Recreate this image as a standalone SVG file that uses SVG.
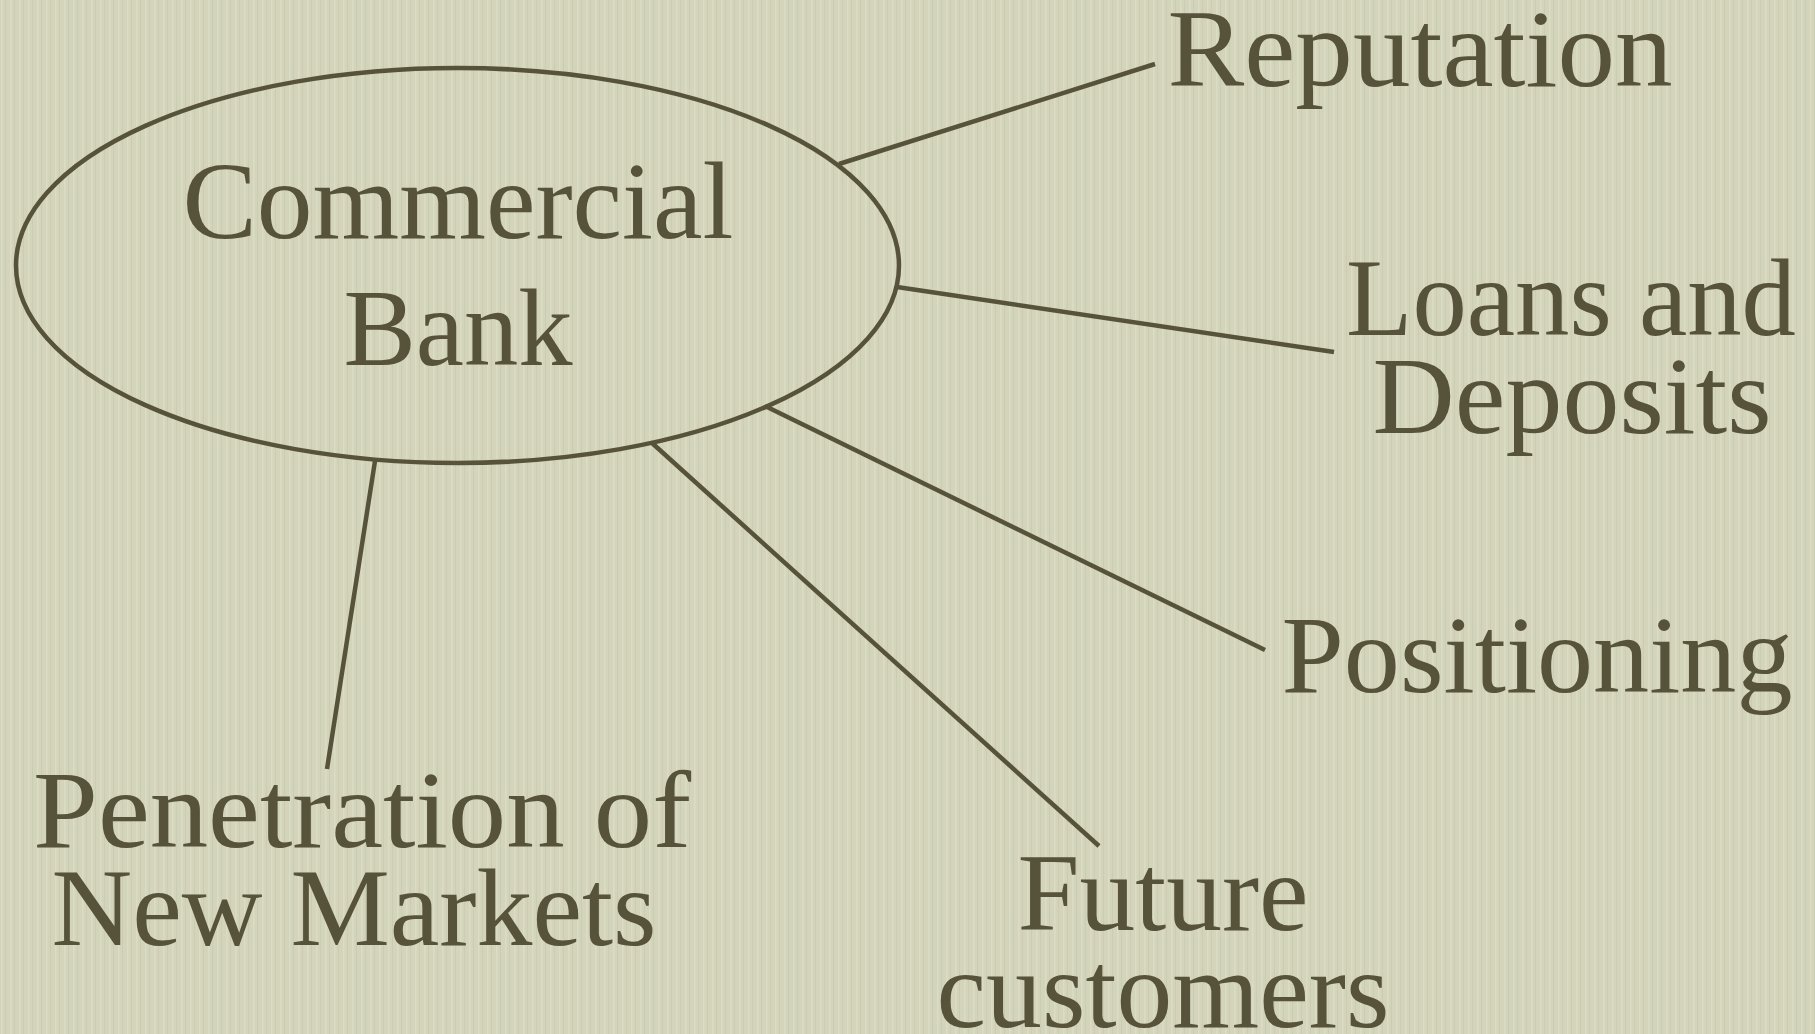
<svg xmlns="http://www.w3.org/2000/svg" width="1815" height="1034" viewBox="0 0 1815 1034">
<style>
.bg{fill:#d3d4ba}
.t{font-family:"Liberation Serif","Times New Roman",serif;font-size:110px;fill:#56533a}
.c{stroke:#56533a;stroke-width:4.5;fill:none;stroke-linecap:butt}
</style>
<defs>
<pattern id="tex" width="9" height="1034" patternUnits="userSpaceOnUse">
<rect x="1" y="0" width="1.5" height="1034" fill="#e2e2cc" opacity="0.55"/>
<rect x="5" y="0" width="1" height="1034" fill="#c4c5aa" opacity="0.5"/>
</pattern>
</defs>
<rect class="bg" x="0" y="0" width="1815" height="1034"/>
<rect x="0" y="0" width="1815" height="1034" fill="url(#tex)"/>
<g id="connectors">
<line class="c" x1="839" y1="164" x2="1155" y2="64"/>
<line class="c" x1="897" y1="287" x2="1334" y2="352"/>
<line class="c" x1="765" y1="406" x2="1265" y2="650"/>
<line class="c" x1="652" y1="443" x2="1099" y2="846"/>
<line class="c" x1="375" y1="461" x2="327" y2="769"/>
</g>
<g id="bank">
<ellipse class="c" cx="457.5" cy="265.5" rx="441.5" ry="197.5"/>
<text class="t" x="458" y="238" text-anchor="middle" textLength="551" lengthAdjust="spacingAndGlyphs">Commercial</text>
<text class="t" x="458" y="365" text-anchor="middle" textLength="229" lengthAdjust="spacingAndGlyphs">Bank</text>
</g>
<g id="reputation">
<text class="t" x="1420" y="86" text-anchor="middle" textLength="505" lengthAdjust="spacingAndGlyphs">Reputation</text>
</g>
<g id="loans">
<text class="t" x="1571" y="335" text-anchor="middle" textLength="450" lengthAdjust="spacingAndGlyphs">Loans and</text>
<text class="t" x="1572" y="433" text-anchor="middle" textLength="399" lengthAdjust="spacingAndGlyphs">Deposits</text>
</g>
<g id="positioning">
<text class="t" x="1537" y="692" text-anchor="middle" textLength="511" lengthAdjust="spacingAndGlyphs">Positioning</text>
</g>
<g id="future">
<text class="t" x="1163" y="930" text-anchor="middle" textLength="291" lengthAdjust="spacingAndGlyphs">Future</text>
<text class="t" x="1163" y="1027" text-anchor="middle" textLength="453" lengthAdjust="spacingAndGlyphs">customers</text>
</g>
<g id="penetration">
<text class="t" x="362" y="847" text-anchor="middle" textLength="658" lengthAdjust="spacingAndGlyphs">Penetration of</text>
<text class="t" x="354" y="945" text-anchor="middle" textLength="605" lengthAdjust="spacingAndGlyphs">New Markets</text>
</g>
</svg>
